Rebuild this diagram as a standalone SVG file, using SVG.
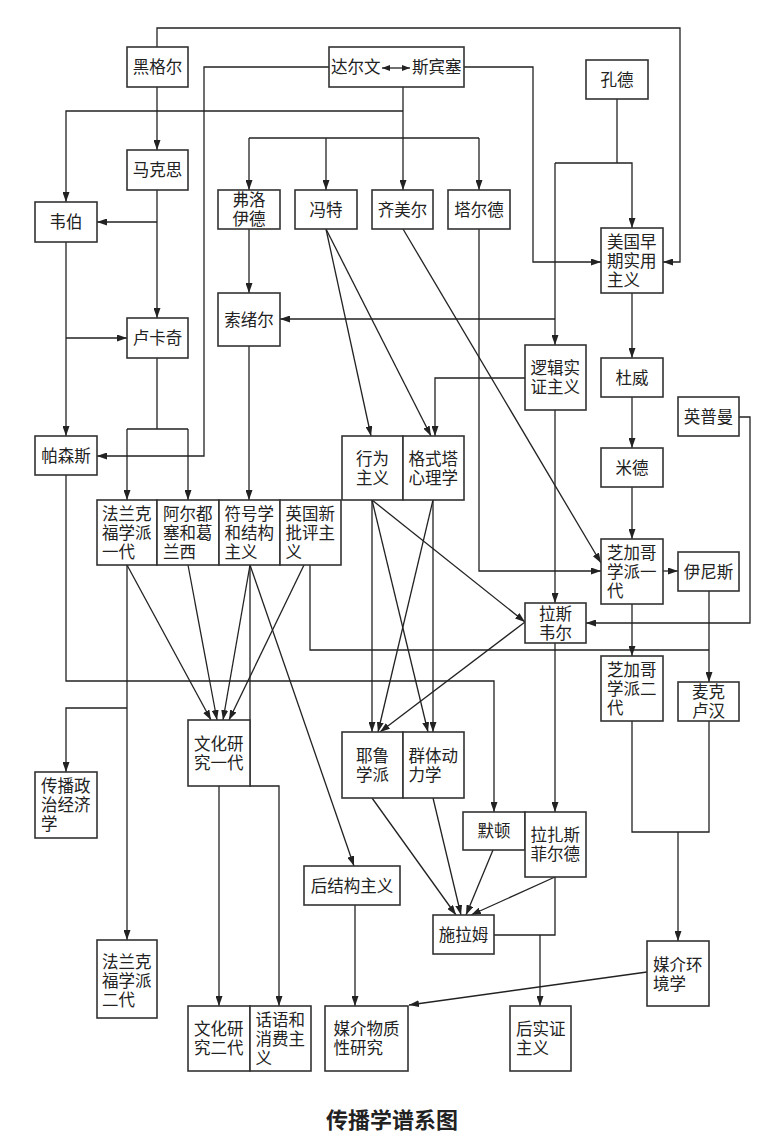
<svg xmlns="http://www.w3.org/2000/svg" width="772" height="1142" viewBox="0 0 772 1142">
<style>
.n rect{fill:#fff;stroke:#333;stroke-width:1.6}
.n text{font-family:"Liberation Sans","Noto Sans CJK SC","Noto Sans CJK TC",sans-serif;font-size:16.5px;fill:#222;dominant-baseline:central}
.m{text-anchor:middle}
#edges path{fill:none;stroke:#222;stroke-width:1.3}
#edges .a{marker-end:url(#arr)}
.title{font-family:"Liberation Sans","Noto Sans CJK SC",sans-serif;font-size:22px;font-weight:bold;fill:#222;text-anchor:middle;dominant-baseline:central}
</style>
<defs>
<marker id="arr" markerUnits="userSpaceOnUse" viewBox="0 0 10 7" refX="10" refY="3.5" markerWidth="10" markerHeight="7" orient="auto"><path d="M0,0 L10,3.5 L0,7 z" fill="#222"/></marker>
<marker id="sarr" markerUnits="userSpaceOnUse" viewBox="0 0 8 6" refX="8" refY="3" markerWidth="8" markerHeight="6" orient="auto-start-reverse"><path d="M0,0 L8,3 L0,6 z" fill="#222"/></marker>
</defs>
<rect width="772" height="1142" fill="#fff"/>
<g id="edges">
<path class="a" d="M157,47 V28 H680 V262 H663"/>
<path class="a" d="M329,67 H204 V456 H97"/>
<path class="a" d="M464,67 H533 V262 H601"/>
<path d="M403,87 V138"/>
<path class="a" d="M403,111 H66 V202"/>
<path d="M249,138 H479"/>
<path class="a" d="M249,138 V190"/>
<path class="a" d="M326,138 V190"/>
<path class="a" d="M403,138 V190"/>
<path class="a" d="M479,138 V190"/>
<path class="a" d="M157,87 V150"/>
<path class="a" d="M157,190 V318"/>
<path class="a" d="M157,222 H97"/>
<path class="a" d="M66,242 V436"/>
<path class="a" d="M66,338 H127"/>
<path class="a" d="M249,229 V293"/>
<path class="a" d="M249,346 V500"/>
<path d="M617,99 V163"/>
<path class="a" d="M555,163 H632 V228"/>
<path class="a" d="M555,163 V345"/>
<path class="a" d="M555,319 H280"/>
<path class="a" d="M525,378 H435 V436"/>
<path class="a" d="M555,410 V603"/>
<path class="a" d="M632,293 V358"/>
<path class="a" d="M632,397 V448"/>
<path class="a" d="M632,487 V539"/>
<path d="M157,358 V429 M127,429 H188"/>
<path class="a" d="M127,429 V500"/>
<path class="a" d="M188,429 V500"/>
<path class="a" d="M326,229 L371,436"/>
<path class="a" d="M326,229 L431,436"/>
<path class="a" d="M403,229 L601,563"/>
<path class="a" d="M479,229 V571 H601"/>
<path class="a" d="M663,571 H678"/>
<path class="a" d="M739,417 H750 V623 H586"/>
<path class="a" d="M632,604 V656"/>
<path class="a" d="M709,591 V682"/>
<path d="M310,565 V650 H709"/>
<path class="a" d="M372,500 V732"/>
<path class="a" d="M372,500 L428,732"/>
<path class="a" d="M372,500 L525,622"/>
<path class="a" d="M433,500 L378,732"/>
<path class="a" d="M433,500 V732"/>
<path class="a" d="M525,622 L380,732"/>
<path class="a" d="M66,475 V681 H494 V812"/>
<path class="a" d="M127,565 V940"/>
<path class="a" d="M127,708 H66 V772"/>
<path class="a" d="M127,565 L211,720"/>
<path class="a" d="M188,565 L217,720"/>
<path class="a" d="M250,565 L223,720"/>
<path class="a" d="M304,565 L229,720"/>
<path class="a" d="M250,565 V786 H279 V1006"/>
<path class="a" d="M250,565 L354,866"/>
<path class="a" d="M219,786 V1006"/>
<path class="a" d="M355,905 V1006"/>
<path class="a" d="M372,798 L456,915"/>
<path class="a" d="M433,798 L461,915"/>
<path class="a" d="M493,850 L466,915"/>
<path class="a" d="M555,877 L471,915"/>
<path d="M494,935 H555 V877"/>
<path class="a" d="M540,935 V1006"/>
<path d="M632,721 V832 H709 V721"/>
<path class="a" d="M678,832 V941"/>
<path class="a" d="M647,972 L409,1005"/>
<path class="a" d="M555,643 V812"/>
</g>
<g id="hegel" class="n"><rect x="127" y="47" width="61" height="40"/><text class="m" x="157.5" y="67">黑格尔</text></g>
<g id="darwin-spencer" class="n"><rect x="329" y="47" width="135" height="40"/><text x="331" y="67">达尔文</text><text x="412" y="67">斯宾塞</text><path d="M382,68 H410" stroke="#222" stroke-width="1.3" fill="none" marker-start="url(#sarr)" marker-end="url(#sarr)"/></g>
<g id="comte" class="n"><rect x="586" y="60" width="62" height="39"/><text class="m" x="617" y="79.5">孔德</text></g>
<g id="marx" class="n"><rect x="127" y="150" width="61" height="40"/><text class="m" x="157.5" y="170">马克思</text></g>
<g id="weber" class="n"><rect x="35" y="202" width="62" height="40"/><text class="m" x="66" y="222">韦伯</text></g>
<g id="freud" class="n"><rect x="218" y="190" width="62" height="39"/><text><tspan x="232.5" y="200">弗洛</tspan><tspan x="232.5" y="219">伊德</tspan></text></g>
<g id="wundt" class="n"><rect x="295" y="190" width="62" height="39"/><text class="m" x="326" y="209.5">冯特</text></g>
<g id="simmel" class="n"><rect x="372" y="190" width="61" height="39"/><text class="m" x="402.5" y="209.5">齐美尔</text></g>
<g id="tarde" class="n"><rect x="448" y="190" width="62" height="39"/><text class="m" x="479" y="209.5">塔尔德</text></g>
<g id="pragmatism" class="n"><rect x="601" y="228" width="62" height="65"/><text><tspan x="607" y="241.5">美国早</tspan><tspan x="607" y="260.5">期实用</tspan><tspan x="607" y="279.5">主义</tspan></text></g>
<g id="saussure" class="n"><rect x="218" y="293" width="62" height="53"/><text class="m" x="249" y="319.5">索绪尔</text></g>
<g id="lukacs" class="n"><rect x="127" y="318" width="61" height="40"/><text class="m" x="157.5" y="338">卢卡奇</text></g>
<g id="logical-positivism" class="n"><rect x="525" y="345" width="61" height="65"/><text><tspan x="530.5" y="368">逻辑实</tspan><tspan x="530.5" y="387">证主义</tspan></text></g>
<g id="dewey" class="n"><rect x="601" y="358" width="62" height="39"/><text class="m" x="632" y="377.5">杜威</text></g>
<g id="lippmann" class="n"><rect x="678" y="397" width="61" height="39"/><text class="m" x="708.5" y="416.5">英普曼</text></g>
<g id="parsons" class="n"><rect x="35" y="436" width="62" height="39"/><text class="m" x="66" y="455.5">帕森斯</text></g>
<g id="behaviorism" class="n"><rect x="342" y="436" width="61" height="64"/><text><tspan x="356" y="458.5">行为</tspan><tspan x="356" y="477.5">主义</tspan></text></g>
<g id="gestalt" class="n"><rect x="403" y="436" width="61" height="64"/><text><tspan x="408.5" y="458.5">格式塔</tspan><tspan x="408.5" y="477.5">心理学</tspan></text></g>
<g id="mead" class="n"><rect x="601" y="448" width="62" height="39"/><text class="m" x="632" y="467.5">米德</text></g>
<g id="frankfurt1" class="n"><rect x="97" y="500" width="60" height="65"/><text><tspan x="102" y="513.5">法兰克</tspan><tspan x="102" y="532.5">福学派</tspan><tspan x="102" y="551.5">一代</tspan></text></g>
<g id="althusser-gramsci" class="n"><rect x="157" y="500" width="62" height="65"/><text><tspan x="163" y="513.5">阿尔都</tspan><tspan x="163" y="532.5">塞和葛</tspan><tspan x="163" y="551.5">兰西</tspan></text></g>
<g id="semiotics" class="n"><rect x="219" y="500" width="61" height="65"/><text><tspan x="224.5" y="513.5">符号学</tspan><tspan x="224.5" y="532.5">和结构</tspan><tspan x="224.5" y="551.5">主义</tspan></text></g>
<g id="new-criticism" class="n"><rect x="280" y="500" width="61" height="65"/><text><tspan x="285.5" y="513.5">英国新</tspan><tspan x="285.5" y="532.5">批评主</tspan><tspan x="285.5" y="551.5">义</tspan></text></g>
<g id="chicago1" class="n"><rect x="601" y="539" width="62" height="65"/><text><tspan x="607" y="552.5">芝加哥</tspan><tspan x="607" y="571.5">学派一</tspan><tspan x="607" y="590.5">代</tspan></text></g>
<g id="innis" class="n"><rect x="678" y="552" width="61" height="39"/><text class="m" x="708.5" y="571.5">伊尼斯</text></g>
<g id="lasswell" class="n"><rect x="525" y="603" width="61" height="40"/><text><tspan x="539" y="613.5">拉斯</tspan><tspan x="539" y="632.5">韦尔</tspan></text></g>
<g id="chicago2" class="n"><rect x="601" y="656" width="62" height="65"/><text><tspan x="607" y="669.5">芝加哥</tspan><tspan x="607" y="688.5">学派二</tspan><tspan x="607" y="707.5">代</tspan></text></g>
<g id="mcluhan" class="n"><rect x="678" y="682" width="61" height="39"/><text><tspan x="692" y="692">麦克</tspan><tspan x="692" y="711">卢汉</tspan></text></g>
<g id="cultural1" class="n"><rect x="188" y="720" width="62" height="66"/><text><tspan x="194" y="743.5">文化研</tspan><tspan x="194" y="762.5">究一代</tspan></text></g>
<g id="yale" class="n"><rect x="342" y="732" width="61" height="66"/><text><tspan x="356" y="755.5">耶鲁</tspan><tspan x="356" y="774.5">学派</tspan></text></g>
<g id="group-dynamics" class="n"><rect x="403" y="732" width="61" height="66"/><text><tspan x="408.5" y="755.5">群体动</tspan><tspan x="408.5" y="774.5">力学</tspan></text></g>
<g id="political-economy" class="n"><rect x="35" y="772" width="62" height="66"/><text><tspan x="41" y="786">传播政</tspan><tspan x="41" y="805">治经济</tspan><tspan x="41" y="824">学</tspan></text></g>
<g id="merton" class="n"><rect x="463" y="812" width="62" height="38"/><text class="m" x="494" y="831">默顿</text></g>
<g id="lazarsfeld" class="n"><rect x="525" y="812" width="61" height="65"/><text><tspan x="530.5" y="835">拉扎斯</tspan><tspan x="530.5" y="854">菲尔德</tspan></text></g>
<g id="poststructuralism" class="n"><rect x="304" y="866" width="96" height="39"/><text class="m" x="352" y="885.5">后结构主义</text></g>
<g id="schramm" class="n"><rect x="433" y="915" width="61" height="39"/><text class="m" x="463.5" y="934.5">施拉姆</text></g>
<g id="frankfurt2" class="n"><rect x="97" y="940" width="60" height="78"/><text><tspan x="102" y="962">法兰克</tspan><tspan x="102" y="981">福学派</tspan><tspan x="102" y="1000">二代</tspan></text></g>
<g id="media-ecology" class="n"><rect x="647" y="941" width="62" height="65"/><text><tspan x="653" y="965">媒介环</tspan><tspan x="653" y="984">境学</tspan></text></g>
<g id="cultural2" class="n"><rect x="188" y="1006" width="62" height="65"/><text><tspan x="194" y="1029">文化研</tspan><tspan x="194" y="1048">究二代</tspan></text></g>
<g id="discourse-consumerism" class="n"><rect x="250" y="1006" width="61" height="65"/><text><tspan x="255.5" y="1019.5">话语和</tspan><tspan x="255.5" y="1038.5">消费主</tspan><tspan x="255.5" y="1057.5">义</tspan></text></g>
<g id="media-materiality" class="n"><rect x="325" y="1006" width="83" height="65"/><text><tspan x="333.5" y="1029">媒介物质</tspan><tspan x="333.5" y="1048">性研究</tspan></text></g>
<g id="post-positivism" class="n"><rect x="510" y="1006" width="61" height="65"/><text><tspan x="516" y="1029">后实证</tspan><tspan x="516" y="1048">主义</tspan></text></g>
<text class="title" x="392" y="1120">传播学谱系图</text>
</svg>
